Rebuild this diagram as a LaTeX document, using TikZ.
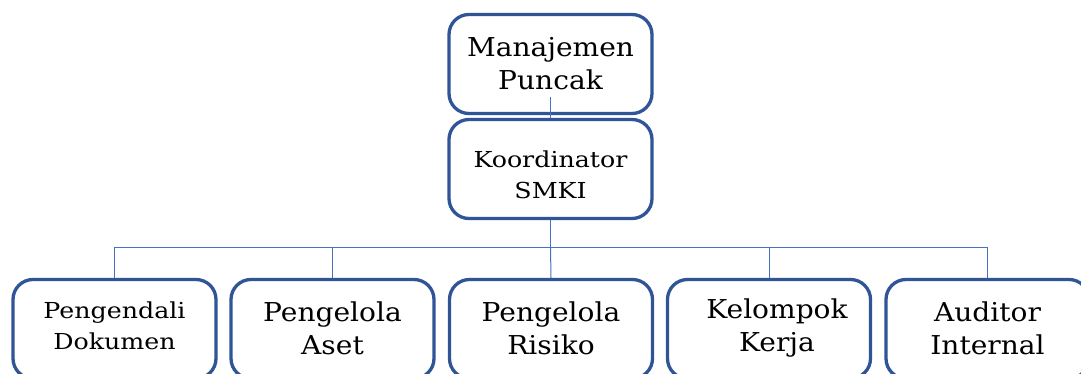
\documentclass[tikz,border=0pt]{standalone}
\usepackage{fontspec}
\setmainfont{DejaVu Serif}[FakeStretch=1.08]
\newfontfamily\smallserif{DejaVu Serif}[FakeStretch=1.15]
\begin{document}
\begin{tikzpicture}[x=1pt,y=-1pt,
  box/.style={draw=boxblue, line width=3.3pt, rounded corners=20pt, minimum width=203pt, minimum height=99pt, inner sep=0pt},
  txtbig/.style={align=center, font=\fontsize{26}{33}\selectfont, inner sep=0pt},
  txtsmall/.style={align=center, font=\smallserif\fontsize{22}{31}\selectfont, inner sep=0pt},
  conn/.style={draw=lineblue, line width=1pt}]
\definecolor{boxblue}{HTML}{2F5597}
\definecolor{lineblue}{HTML}{4472C4}
\useasboundingbox (0,0) rectangle (1081,373);
\clip (0,0) rectangle (1081,373);
% boxes
\node[box] (mp) at (550.5,64) {};
\node[box] (ks) at (550.5,169) {};
\node[box] (b1) at (114.5,329) {};
\node[box] (b2) at (332.5,329) {};
\node[box] (b3) at (551,329) {};
\node[box] (b4) at (769,329) {};
\node[box] (b5) at (987.5,329) {};
% texts
\node[txtbig] (tmp) at (mp.center) {Manajemen\\Puncak};
\node[txtsmall] (tks) at ([yshift=-6pt]ks.center) {Koordinator\\SMKI};
\node[txtsmall] (t1) at ([yshift=3pt]b1.center) {Pengendali\\Dokumen};
\node[txtbig] (t2) at ([yshift=1pt]b2.center) {Pengelola\\Aset};
\node[txtbig] (t3) at ([yshift=1pt]b3.center) {Pengelola\\Risiko};
\node[txtbig] (t4) at ([xshift=8pt,yshift=1pt]b4.center) {Kelompok\\Kerja};
\node[txtbig] (t5) at ([yshift=1pt]b5.center) {Auditor\\Internal};
% connectors
\coordinate (mpin) at (550.5,97);
\draw[conn] (mpin) -- (ks.north);
\coordinate (bus) at (550.5,247);
\draw[conn] (ks.south) -- (bus);
\draw[conn] (bus) -| (b1.north);
\draw[conn] (bus) -| (b2.north);
\draw[conn] (bus) -- (b3.north);
\draw[conn] (bus) -| (b4.north);
\draw[conn] (bus) -| (b5.north);
\end{tikzpicture}
\end{document}
